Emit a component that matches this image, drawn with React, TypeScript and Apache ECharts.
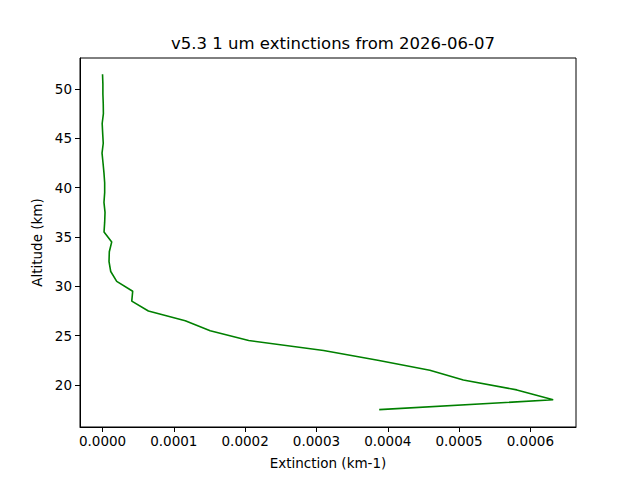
import { useEffect, useRef } from "react";
import * as echarts from "echarts";

const altitudes = [
  17.5, 18.5, 19.5, 20.5, 21.5, 22.5, 23.5, 24.5, 25.5, 26.5, 27.5, 28.5, 29.5,
  30.5, 31.5, 32.5, 33.5, 34.5, 35.5, 36.5, 37.5, 38.5, 39.5, 40.5, 41.5, 42.5,
  43.5, 44.5, 45.5, 46.5, 47.5, 48.5, 49.5, 50.5, 51.5,
];

const extinctions = [
  0.000388, 0.000632, 0.000581, 0.000506, 0.000459, 0.000386, 0.00031, 0.000205,
  0.000151, 0.000116, 0.0000643, 0.000041, 0.0000423, 0.0000199, 0.0000115,
  0.0000091, 0.0000095, 0.0000129, 0.0000021, 0.000003, 0.0000035, 0.000002,
  0.000003, 0.000003, 0.000002, 0.0000007, -0.0000007, 0.000001, 0.0000002,
  -0.0000005, 0.0000012, 0.000001, 0.0000005, 0.0000005, 0.0,
];

const xTicks = [0, 0.0001, 0.0002, 0.0003, 0.0004, 0.0005, 0.0006];
const yTicks = [20, 25, 30, 35, 40, 45, 50];

const FONT = "DejaVu Sans";

export default function App() {
  const ref = useRef<HTMLDivElement | null>(null);

  useEffect(() => {
    if (!ref.current) return;
    const chart = echarts.init(ref.current, undefined, { renderer: "svg" });

    const option = {
      animation: false,
      backgroundColor: "#ffffff",
      title: {
        text: "v5.3 1 um extinctions from 2026-06-07",
        left: 328,
        top: 30,
        textAlign: "center",
        textStyle: { fontFamily: FONT, fontSize: 16.5, fontWeight: "normal", color: "#000" },
      },
      grid: {
        left: 80,
        right: 64,
        top: 58,
        bottom: 53,
        show: true,
        borderColor: "#000",
        borderWidth: 1,
        containLabel: false,
      },
      xAxis: {
        type: "value",
        min: -0.0000316,
        max: 0.000664,
        name: "Extinction (km-1)",
        nameLocation: "middle",
        nameGap: 29,
        nameTextStyle: { fontFamily: FONT, fontSize: 13.5, color: "#000" },
        axisLine: { show: true, onZero: false, lineStyle: { color: "#000", width: 1 } },
        axisTick: {
          show: true,
          length: 5,
          inside: false,
          customValues: xTicks,
          lineStyle: { color: "#000", width: 1 },
        },
        axisLabel: {
          customValues: xTicks,
          formatter: (v: number) => v.toFixed(4),
          fontFamily: FONT,
          fontSize: 13.5,
          color: "#000",
          margin: 7,
        },
        splitLine: { show: false },
      },
      yAxis: {
        type: "value",
        min: 15.74,
        max: 53.14,
        name: "Altitude (km)",
        nameLocation: "middle",
        nameGap: 34,
        nameRotate: 90,
        nameTextStyle: { fontFamily: FONT, fontSize: 13.5, color: "#000" },
        axisLine: { show: true, onZero: false, lineStyle: { color: "#000", width: 1 } },
        axisTick: {
          show: true,
          length: 5,
          inside: false,
          customValues: yTicks,
          lineStyle: { color: "#000", width: 1 },
        },
        axisLabel: {
          customValues: yTicks,
          fontFamily: FONT,
          fontSize: 13.5,
          color: "#000",
          margin: 8,
        },
        splitLine: { show: false },
      },
      series: [
        {
          type: "line",
          data: altitudes.map((a, i) => [extinctions[i], a]),
          showSymbol: false,
          symbol: "none",
          lineStyle: { color: "#008000", width: 1.6 },
          itemStyle: { color: "#008000" },
        },
      ],
    };

    chart.setOption(option as echarts.EChartsOption);
    return () => {
      chart.dispose();
    };
  }, []);

  return (
    <div
      ref={ref}
      style={{ position: "absolute", left: 0, top: 0, width: 640, height: 480 }}
    />
  );
}
